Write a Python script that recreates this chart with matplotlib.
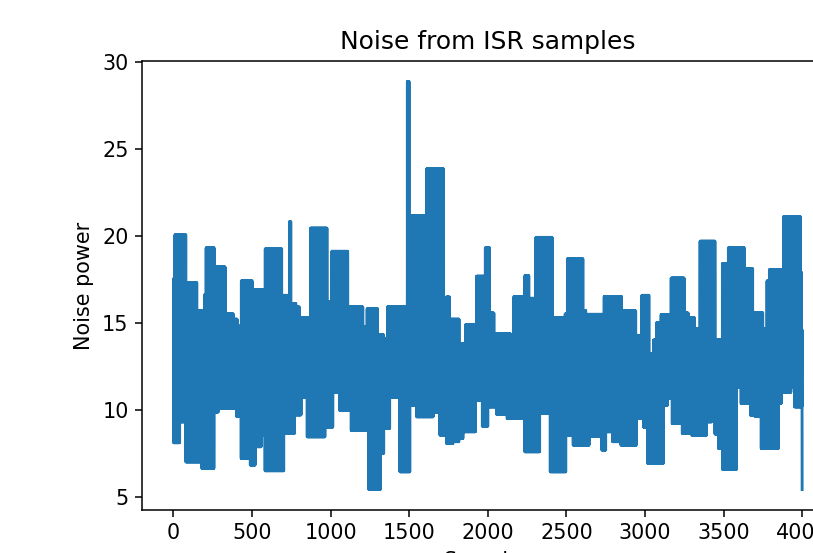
import numpy as np
import matplotlib
matplotlib.use("Agg")
import matplotlib.pyplot as plt

n_samples = 4000

# step levels of the upper side of the noise trace (sample where each level starts)
upper_starts = [0, 10, 79, 149, 197, 208, 259, 329, 382, 405, 431, 502, 520, 583,
                689, 738, 747, 780, 801, 871, 977, 1007, 1109, 1206, 1232, 1300,
                1338, 1364, 1488, 1500, 1518, 1609, 1720, 1736, 1758, 1817, 1860,
                1927, 1983, 2012, 2040, 2050, 2143, 2165, 2235, 2262, 2305, 2410,
                2491, 2506, 2606, 2623, 2739, 2852, 2941, 2979, 3025, 3053, 3074,
                3102, 3165, 3250, 3275, 3314, 3350, 3445, 3492, 3530, 3632, 3685,
                3749, 3776, 3791, 3882, 3988, 3995]
upper_levels = [17.5, 20.05, 17.3, 15.7, 16.6, 19.3, 18.2, 15.5, 15.2, 14.8, 17.4,
                14.5, 16.9, 19.24, 16.57, 20.8, 16.1, 15.9, 15.3, 20.43, 16.2, 19.1,
                15.9, 14.75, 15.8, 14.3, 14.1, 15.93, 28.86, 17.1, 21.15, 23.83, 14.75,
                16.47, 15.2, 13.8, 14.9, 17.67, 19.3, 15.55, 14.0, 14.37, 13.7, 16.5,
                17.7, 16.4, 19.9, 15.3, 15.5, 18.67, 15.7, 15.48, 16.5, 15.67, 14.27,
                16.57, 13.2, 14.0, 15.0, 15.46, 17.56, 15.55, 15.3, 14.65, 19.68, 14.0,
                18.4, 19.3, 18.1, 15.57, 14.65, 17.4, 18.06, 21.1, 17.9, 14.6]

# step levels of the lower side of the noise trace
lower_starts = [0, 40, 79, 180, 259, 287, 403, 431, 488, 520, 558, 583, 702, 770,
                812, 850, 965, 1014, 1056, 1130, 1243, 1317, 1338, 1376, 1440, 1504,
                1546, 1652, 1694, 1736, 1779, 1817, 1842, 1923, 1965, 2001, 2054,
                2122, 2235, 2330, 2396, 2497, 2543, 2645, 2725, 2750, 2793, 2846,
                2945, 2990, 3017, 3116, 3144, 3173, 3237, 3297, 3392, 3424, 3445,
                3466, 3492, 3583, 3611, 3670, 3700, 3738, 3848, 3867, 3929, 3950,
                3999]
lower_levels = [8.1, 9.3, 7.0, 6.63, 9.87, 10.07, 9.6, 7.2, 6.82, 7.87, 8.54, 6.49,
                8.63, 9.7, 10.73, 8.44, 9.0, 11.0, 9.97, 8.8, 5.41, 7.49, 8.92, 10.73,
                6.43, 10.26, 9.59, 9.87, 8.54, 8.06, 8.16, 8.35, 8.73, 10.54, 9.05,
                10.16, 9.74, 9.49, 7.58, 9.78, 6.43, 8.54, 7.96, 8.48, 7.68, 8.73, 8.16,
                7.96, 9.5, 9.0, 6.91, 10.26, 10.64, 9.2, 8.63, 8.54, 9.3, 10.1, 8.6,
                7.77, 6.57, 11.3, 10.35, 9.68, 9.6, 7.77, 10.35, 11.0, 11.3, 10.16,
                5.41]

samples = np.arange(n_samples)
hi = np.asarray(upper_levels)[np.searchsorted(upper_starts, samples, side="right") - 1]
lo = np.asarray(lower_levels)[np.searchsorted(lower_starts, samples, side="right") - 1]
# consecutive samples swing between the high and low level of each stretch
noise = np.where(samples % 2 == 0, hi, lo)

plt.rcParams["font.size"] = 10.8

dpi = 138
fig = plt.figure(figsize=(813 / dpi, 553 / dpi), dpi=dpi)
ax = fig.add_axes([0.1747, 0.0778, 0.8506, 0.8119])
ax.plot(samples, noise)
ax.set_title("Noise from ISR samples")
ax.set_xlabel("Samples")
ax.set_ylabel("Noise power")

fig.savefig("out.png", dpi=dpi)
